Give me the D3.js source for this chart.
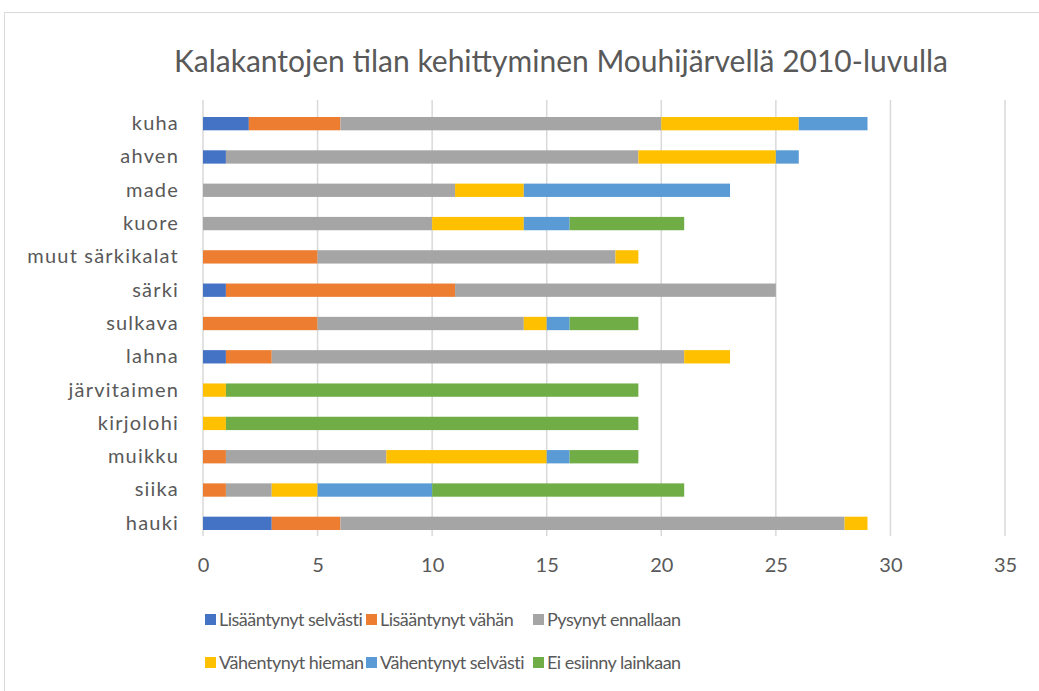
<!DOCTYPE html>
<html>
<head>
<meta charset="utf-8">
<script src="https://cdn.jsdelivr.net/npm/d3@7"></script>
<style>
  body { margin: 0; background: #fff; }
  text { font-family: Lato, "Noto Sans", sans-serif; fill: #595959; }
</style>
</head>
<body>
<script>
// categories from top to bottom
var species = ["kuha", "ahven", "made", "kuore", "muut särkikalat", "särki", "sulkava",
               "lahna", "järvitaimen", "kirjolohi", "muikku", "siika", "hauki"];

var seriesNames = ["Lisääntynyt selvästi", "Lisääntynyt vähän", "Pysynyt ennallaan",
                   "Vähentynyt hieman", "Vähentynyt selvästi", "Ei esiinny lainkaan"];
var seriesColors = ["#4472c4", "#ed7d31", "#a5a5a5", "#ffc000", "#5b9bd5", "#70ad47"];

// values per series, same order as species
var lisaantynytSelvasti = [2, 1, 0, 0, 0, 1, 0, 1, 0, 0, 0, 0, 3];
var lisaantynytVahan    = [4, 0, 0, 0, 5, 10, 5, 2, 0, 0, 1, 1, 3];
var pysynytEnnallaan    = [14, 18, 11, 10, 13, 14, 9, 18, 0, 0, 7, 2, 22];
var vahentynytHieman    = [6, 6, 3, 4, 1, 0, 1, 2, 1, 1, 7, 2, 1];
var vahentynytSelvasti  = [3, 1, 9, 2, 0, 0, 1, 0, 0, 0, 1, 5, 0];
var eiEsiinny           = [0, 0, 0, 5, 0, 0, 3, 0, 18, 18, 3, 11, 0];

var xTicks = [0, 5, 10, 15, 20, 25, 30, 35];

var seriesValues = [lisaantynytSelvasti, lisaantynytVahan, pysynytEnnallaan,
                    vahentynytHieman, vahentynytSelvasti, eiEsiinny];

var width = 1039, height = 691;
var svg = d3.select("body").append("svg").attr("width", width).attr("height", height);

// chart border
svg.append("rect")
  .attr("x", 4.5).attr("y", 12.5)
  .attr("width", 1040).attr("height", 690)
  .attr("fill", "none").attr("stroke", "#d9d9d9");

// title
svg.append("text")
  .attr("x", 561).attr("y", 72)
  .attr("text-anchor", "middle")
  .style("font-size", "30px")
  .text("Kalakantojen tilan kehittyminen  Mouhijärvellä  2010-luvulla");

var x = d3.scaleLinear().domain([0, 35]).range([203, 1005]);
var y = d3.scaleBand().domain(species).range([107, 540]).paddingInner(0.6).paddingOuter(0.3);

// gridlines
svg.append("g").selectAll("line")
  .data(xTicks)
  .enter()
  .append("line")
  .attr("x1", function(d) { return x(d); })
  .attr("x2", function(d) { return x(d); })
  .attr("y1", 100).attr("y2", 536)
  .attr("stroke", "#d9d9d9").attr("stroke-width", 1.5);

// stacked data
var rows = species.map(function(s, i) {
  var r = { name: s };
  seriesNames.forEach(function(n, j) { r[n] = seriesValues[j][i]; });
  return r;
});
var stacked = d3.stack().keys(seriesNames)(rows);

svg.append("g").selectAll("g")
  .data(stacked)
  .enter()
  .append("g")
  .attr("fill", function(d, i) { return seriesColors[i]; })
  .selectAll("rect")
  .data(function(d) { return d; })
  .enter()
  .append("rect")
  .attr("x", function(d) { return x(d[0]); })
  .attr("y", function(d) { return y(d.data.name); })
  .attr("width", function(d) { return x(d[1]) - x(d[0]); })
  .attr("height", y.bandwidth());

// x axis labels
var xAxis = svg.append("g")
  .attr("transform", "translate(0,565)")
  .call(d3.axisBottom(x).tickValues(xTicks).tickSize(0).tickPadding(0));
xAxis.select(".domain").remove();
xAxis.selectAll("text")
  .attr("dy", "0.35em")
  .style("font-size", "20px")
  .style("font-family", "Lato, 'Noto Sans', sans-serif")
  .attr("fill", "#595959");

// category labels
var yAxis = svg.append("g")
  .attr("transform", "translate(179,0)")
  .call(d3.axisLeft(y).tickSize(0).tickPadding(0));
yAxis.select(".domain").remove();
yAxis.selectAll("text")
  .style("font-size", "20px")
  .style("letter-spacing", "1.2px")
  .style("font-family", "Lato, 'Noto Sans', sans-serif")
  .attr("fill", "#595959");

// legend
var legendX = [205, 366, 533];
var legendY = [620, 663];
var legend = svg.append("g").selectAll("g")
  .data(seriesNames)
  .enter()
  .append("g")
  .attr("transform", function(d, i) {
    return "translate(" + legendX[i % 3] + "," + legendY[Math.floor(i / 3)] + ")";
  });
legend.append("rect")
  .attr("x", 0).attr("y", -6)
  .attr("width", 11).attr("height", 11)
  .attr("fill", function(d, i) { return seriesColors[i]; });
legend.append("text")
  .attr("x", 14).attr("dy", "0.35em")
  .style("font-size", "18px")
  .style("letter-spacing", "-0.5px")
  .text(function(d) { return d; });
</script>
</body>
</html>
